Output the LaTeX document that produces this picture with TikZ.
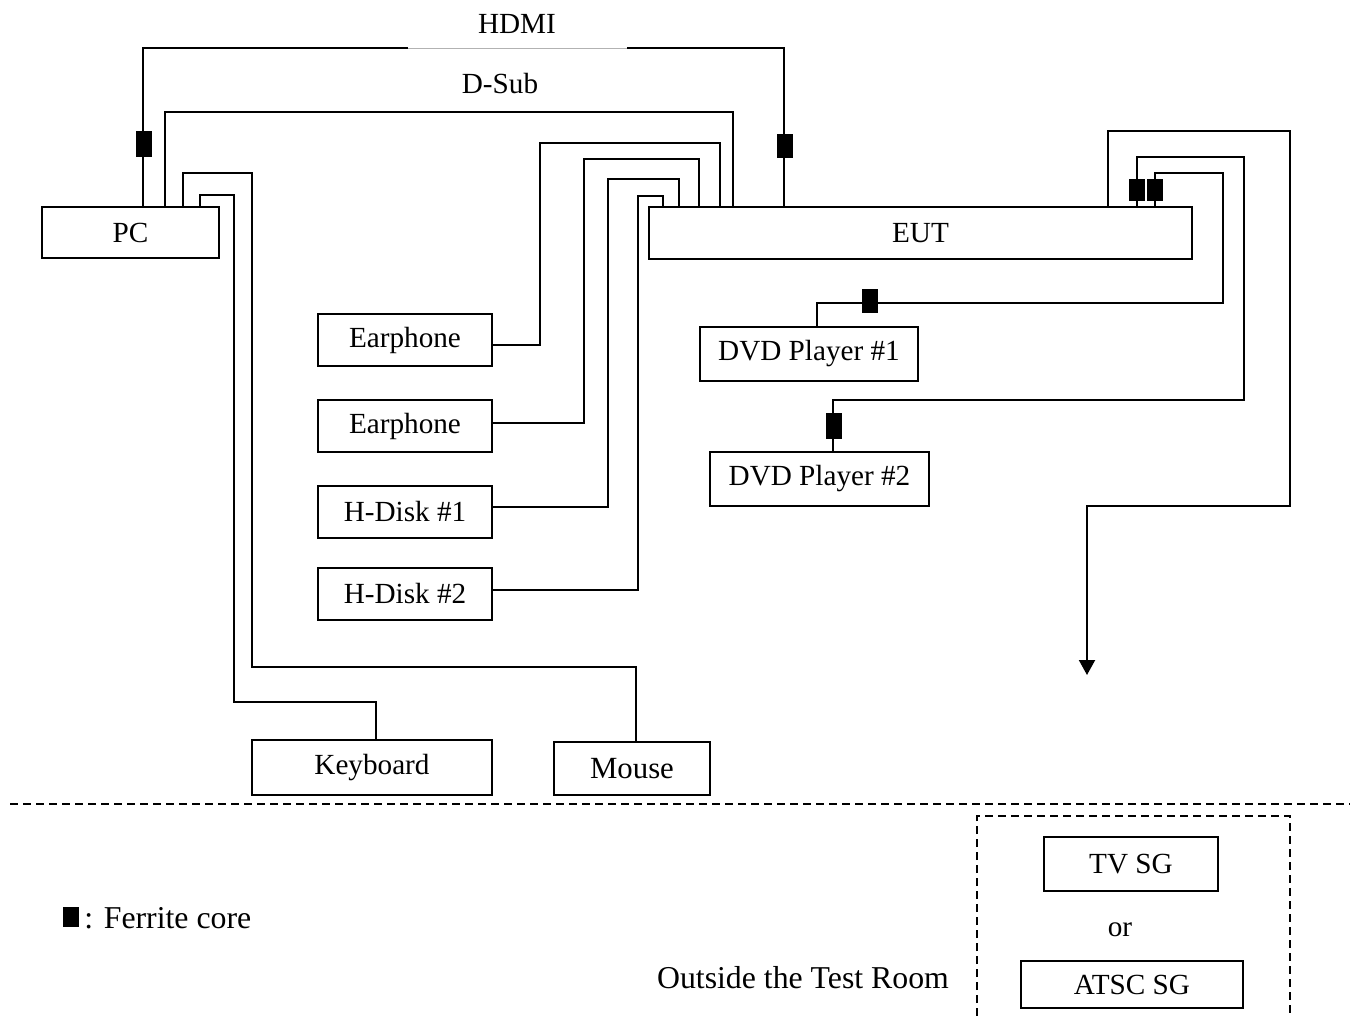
\documentclass[tikz,border=0pt]{standalone}
\usepackage{fontspec}
\setmainfont{Liberation Serif}
\usetikzlibrary{arrows.meta}
\newcommand\dfs{\fontsize{14.6}{17}\selectfont}
\newcommand\bfs{\fontsize{15.9}{18}\selectfont}
\begin{document}
\begin{tikzpicture}[x=0.5pt,y=-0.5pt,
  box/.style={draw,line width=1pt,inner sep=0pt,font=\dfs},
  cable/.style={line width=1pt},
  ferrite/.style={fill=black,draw=none,minimum width=8pt,minimum height=12pt,inner sep=0pt},
  lbl/.style={font=\dfs,inner sep=0pt}]
\useasboundingbox (0,0) rectangle (1356,1016);
% boxes
\node[box,minimum width=88.5pt,minimum height=25.5pt] (pc) at (130.5,232.5) {PC};
\node[box,minimum width=271.5pt,minimum height=26pt] (eut) at (920.5,233) {EUT};
\node[box,minimum width=87pt,minimum height=26pt] (ep1) at (405,340) {Earphone};
\node[box,minimum width=87pt,minimum height=26pt] (ep2) at (405,426) {Earphone};
\node[box,minimum width=87pt,minimum height=26pt] (hd1) at (405,512) {H-Disk \#1};
\node[box,minimum width=87pt,minimum height=26pt] (hd2) at (405,594) {H-Disk \#2};
\node[box,minimum width=109pt,minimum height=27pt] (dvd1) at (809,354) {DVD Player \#1};
\node[box,minimum width=109.5pt,minimum height=27pt] (dvd2) at (819.5,479) {DVD Player \#2};
\node[box,minimum width=120pt,minimum height=27.5pt] (kb) at (372,767.5) {Keyboard};
\node[box,minimum width=78pt,minimum height=26.5pt,font=\fontsize{15.4}{18}\selectfont] (mouse) at (632,768.5) {Mouse};
\node[box,minimum width=87pt,minimum height=27pt] (tvsg) at (1131,864) {TV SG};
\node[box,minimum width=111pt,minimum height=23.5pt] (atsc) at (1132,984.5) {ATSC SG};
% labels
\node[lbl] (hdmil) at (517,24) {HDMI};
\node[lbl] (dsubl) at (500,84) {D-Sub};
\node[lbl] (orl) at (1120,930) {or};
\node[lbl,font=\bfs] (outl) at (803,978) {Outside the Test Room};
% HDMI cable
\draw[cable] ([xshift=51pt]pc.north west) |- (300,48) -| ([xshift=68pt]eut.north west);
\draw[white,line width=2pt] (408,48) -- (627,48);
\draw[gray!60,line width=0.5pt] (408,49) -- (627,49);
% D-Sub
\draw[cable] ([xshift=62pt]pc.north west) |- (400,112) -| ([xshift=42.5pt]eut.north west);
% Mouse & keyboard
\draw[cable] ([xshift=71pt]pc.north west) |- (252,173) |- (400,667) -| ([xshift=41.5pt]mouse.north west);
\draw[cable] ([xshift=79.5pt]pc.north west) |- (234,195) |- (300,702) -| ([xshift=62.5pt]kb.north west);
% Earphones / disks
\draw[cable] ([yshift=-2.5pt]ep1.east) -| (540,143) -| ([xshift=36pt]eut.north west);
\draw[cable] ([yshift=1.5pt]ep2.east) -| (584,159) -| ([xshift=25.5pt]eut.north west);
\draw[cable] ([yshift=2.5pt]hd1.east) -| (608,179) -| ([xshift=15.5pt]eut.north west);
\draw[cable] ([yshift=2pt]hd2.east) -| (638,196) -| ([xshift=7.5pt]eut.north west);
% right side
\coordinate (aend) at (1087,675);
\draw[cable,-{Triangle[width=8pt,length=7.5pt]}] ([xshift=230pt]eut.north west) |- (1290,131) |- (1200,506) -| (aend);
\draw[cable] ([xshift=244.5pt]eut.north west) |- (1244,157) |- (1000,400) -| ([xshift=62pt]dvd2.north west);
\draw[cable] ([xshift=253.5pt]eut.north west) |- (1223,173) |- (1000,303) -| ([xshift=59pt]dvd1.north west);
% ferrite cores
\node[ferrite,minimum height=13pt] (f1) at (144,144) {};
\node[ferrite] (f2) at (785,146) {};
\node[ferrite,minimum height=11pt] (f3) at (1137,190) {};
\node[ferrite,minimum height=11pt] (f4) at (1155,190) {};
\node[ferrite] (f5) at (870,301) {};
\node[ferrite,minimum height=13pt] (f6) at (834,426) {};
% legend
\node[ferrite,minimum height=10pt] (fl) at (71,917) {};
\node[lbl,anchor=west,font=\bfs] (fll) at (84,918) {: Ferrite core};
% boundaries
\draw[line width=0.8pt,dash pattern=on 4pt off 2.5pt] (10,804) -- (1350,804);
\draw[line width=0.8pt,dash pattern=on 4pt off 2.5pt] (977,1016) |- (1290,816) -- (1290,1016);
\end{tikzpicture}
\end{document}
